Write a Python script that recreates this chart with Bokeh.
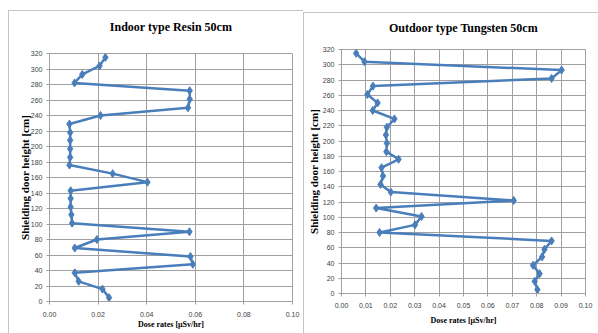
from bokeh.plotting import figure
from bokeh.models import Range1d, FixedTicker, NumeralTickFormatter, LinearAxis
from bokeh.embed import file_html
from bokeh.resources import INLINE

# ---- data ----
heights = [5, 16, 26, 37, 48, 58, 69, 80, 90, 101, 112, 122, 133, 143, 154,
           165, 176, 186, 197, 208, 218, 229, 240, 250, 261, 272, 282, 293, 304, 315]
indoor_resin = [0.0245, 0.0218, 0.0120, 0.0104, 0.0590, 0.0580, 0.0104, 0.0195,
                0.0576, 0.0093, 0.0090, 0.0087, 0.0087, 0.0087, 0.0403, 0.0260,
                0.0082, 0.0085, 0.0085, 0.0085, 0.0085, 0.0082, 0.0210, 0.0570,
                0.0577, 0.0577, 0.0103, 0.0135, 0.0206, 0.0230]
outdoor_tungsten = [0.0803, 0.0792, 0.0812, 0.0785, 0.0822, 0.0832, 0.0861, 0.0156,
                    0.0301, 0.0328, 0.0142, 0.0706, 0.0202, 0.0160, 0.0170, 0.0164,
                    0.0234, 0.0184, 0.0186, 0.0182, 0.0186, 0.0217, 0.0128, 0.0148,
                    0.0106, 0.0129, 0.0861, 0.0902, 0.0094, 0.0060]
y_ticks = list(range(0, 321, 20))
x_ticks_left = [0.00, 0.02, 0.04, 0.06, 0.08, 0.10]
x_ticks_right = [0.00, 0.01, 0.02, 0.03, 0.04, 0.05, 0.06, 0.07, 0.08, 0.09, 0.10]
titles = ["Indoor type Resin 50cm", "Outdoor type Tungsten 50cm"]
x_label = "Dose rates [\u03bcSv/hr]"
y_label = "Shielding door height [cm]"

LINE = "#4a7ebb"
GRID = "#a0a0a0"
SERIF = "Liberation Serif"
TICKFONT = "'Liberation Sans Narrow', 'Liberation Sans', sans-serif"
EDGE = "#c4c4c4"


def host_style(left, x0, y0, w, h):
    g = f"linear-gradient({EDGE}, {EDGE})"
    return {"position": "absolute", "left": f"{left}px", "top": "0px",
            "background-image": f"{g}, {g}",
            "background-size": f"{w}px 1px, 1px {h}px",
            "background-position": f"{x0}px {y0}px, {x0}px {y0}px",
            "background-repeat": "no-repeat"}


def panel(title, xs, xticks, width, borders, styles, title_standoff, xstand, xlabstand, ylabstand):
    ml, mr, mt, mb = borders
    p = figure(width=width, height=333, output_backend="svg", toolbar_location=None,
               x_range=Range1d(0, 0.10), y_range=Range1d(0, 320),
               min_border_left=ml, min_border_right=mr, min_border_top=mt, min_border_bottom=mb,
               styles=styles)
    p.border_fill_color = None
    p.background_fill_color = "white"

    xa = p.below[0]
    ya = p.left[0]

    # title drawn as the label of an empty top axis so it sits at a fixed distance from the frame
    top = LinearAxis(ticker=FixedTicker(ticks=[]), axis_label=title,
                     axis_line_color=None, major_tick_line_color=None,
                     minor_tick_line_color=None,
                     major_tick_out=0, major_tick_in=0, major_label_standoff=0,
                     axis_label_standoff=title_standoff,
                     axis_label_text_font=SERIF, axis_label_text_font_style="bold",
                     axis_label_text_font_size="12px", axis_label_text_color="#000000")
    p.add_layout(top, "above")

    p.line(xs, heights, line_color=LINE, line_width=2.5)
    p.scatter(xs, heights, marker="diamond", size=8, fill_color=LINE, line_color=LINE)

    xa.ticker = FixedTicker(ticks=xticks)
    xa.formatter = NumeralTickFormatter(format="0.00")
    ya.ticker = FixedTicker(ticks=y_ticks)
    for ax in (xa, ya):
        ax.major_label_text_font = TICKFONT
        ax.major_label_text_font_size = "7px"
        ax.major_label_text_color = "#404040"
        ax.axis_line_color = GRID
        ax.major_tick_line_color = GRID
        ax.major_tick_out = 3
        ax.major_tick_in = 0
        ax.minor_tick_line_color = None
        ax.axis_label_text_font = SERIF
        ax.axis_label_text_font_style = "bold"
        ax.axis_label_text_color = "#000000"
    xa.major_label_standoff = xstand
    ya.major_label_standoff = 4
    xa.axis_label = x_label
    xa.axis_label_text_font_size = "8px"
    xa.axis_label_standoff = xlabstand
    ya.axis_label = y_label
    ya.axis_label_text_font_size = "11px"
    ya.axis_label_standoff = ylabstand

    p.xgrid.grid_line_color = GRID
    p.ygrid.grid_line_color = GRID
    p.outline_line_color = GRID
    return p


p1 = panel(titles[0], indoor_resin, x_ticks_left, 303, (49, 11, 53, 32),
           host_style(0, 8, 10, 295, 323), 20, 7, 0, -3)
p2 = panel(titles[1], outdoor_tungsten, x_ticks_right, 295, (38, 13, 49, 40),
           host_style(303, 0, 12, 295, 321), 15, 6, 5, 0)

open("out.html", "w").write(file_html([p1, p2], INLINE))
